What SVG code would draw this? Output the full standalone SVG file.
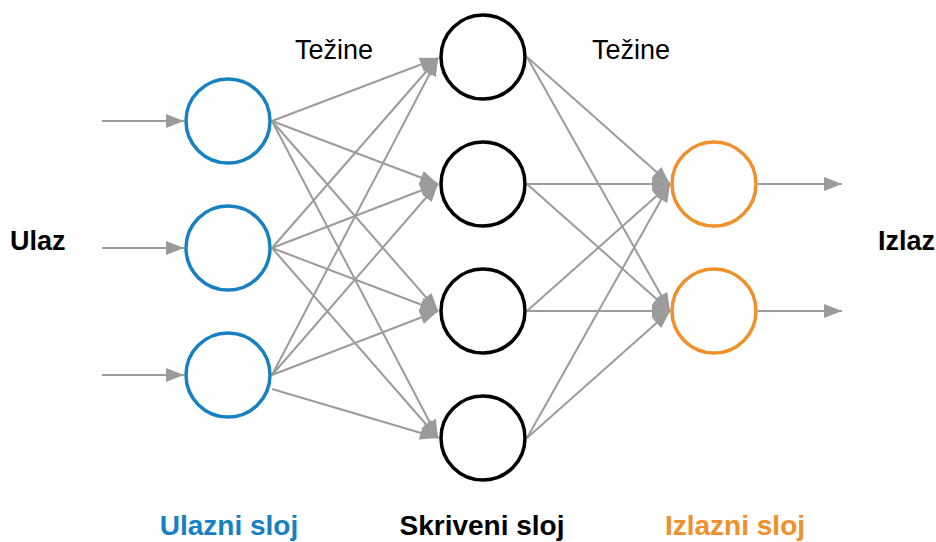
<svg xmlns="http://www.w3.org/2000/svg" width="936" height="542" viewBox="0 0 936 542">
<style>
.c{fill:#fff;stroke-width:3.5}
.in{stroke:#1580c2}
.hid{stroke:#000}
.out{stroke:#f0902a}
.e{stroke:#9b9b9b;stroke-width:2;fill:none;marker-end:url(#ah)}
.t{font-family:"Liberation Sans",Arial,sans-serif}
</style>
<defs>
<marker id="ah" markerUnits="userSpaceOnUse" markerWidth="19" markerHeight="15" refX="18" refY="7.5" orient="auto" viewBox="0 0 19 15">
<path d="M0,0.5 L18,7.5 L0,14.5 z" fill="#9b9b9b"/>
</marker>
</defs>
<g id="connectors">
<line class="e" x1="102" y1="121" x2="184" y2="121"/>
<line class="e" x1="102" y1="248" x2="184" y2="248"/>
<line class="e" x1="102" y1="375" x2="184" y2="375"/>
<line class="e" x1="272" y1="121" x2="438" y2="58"/>
<line class="e" x1="272" y1="121" x2="438" y2="184"/>
<line class="e" x1="272" y1="121" x2="438" y2="311"/>
<line class="e" x1="272" y1="121" x2="438" y2="438"/>
<line class="e" x1="272" y1="248" x2="438" y2="58"/>
<line class="e" x1="272" y1="248" x2="438" y2="184"/>
<line class="e" x1="272" y1="248" x2="438" y2="311"/>
<line class="e" x1="272" y1="248" x2="438" y2="438"/>
<line class="e" x1="272" y1="375" x2="438" y2="58"/>
<line class="e" x1="272" y1="375" x2="438" y2="184"/>
<line class="e" x1="272" y1="375" x2="438" y2="311"/>
<line class="e" x1="272" y1="389" x2="438" y2="438"/>
<line class="e" x1="527" y1="57" x2="670" y2="184"/>
<line class="e" x1="527" y1="57" x2="670" y2="311"/>
<line class="e" x1="527" y1="184" x2="670" y2="184"/>
<line class="e" x1="527" y1="184" x2="670" y2="311"/>
<line class="e" x1="527" y1="311" x2="670" y2="184"/>
<line class="e" x1="527" y1="311" x2="670" y2="311"/>
<line class="e" x1="527" y1="438" x2="670" y2="184"/>
<line class="e" x1="527" y1="438" x2="670" y2="311"/>
<line class="e" x1="758" y1="184" x2="842" y2="184"/>
<line class="e" x1="758" y1="311" x2="842" y2="311"/>
</g>
<g id="in1"><circle class="c in" cx="228" cy="121" r="42"/></g>
<g id="in2"><circle class="c in" cx="228" cy="248" r="42"/></g>
<g id="in3"><circle class="c in" cx="228" cy="375" r="42"/></g>
<g id="h1"><circle class="c hid" cx="483" cy="57" r="42"/></g>
<g id="h2"><circle class="c hid" cx="483" cy="184" r="42"/></g>
<g id="h3"><circle class="c hid" cx="483" cy="311" r="42"/></g>
<g id="h4"><circle class="c hid" cx="483" cy="438" r="42"/></g>
<g id="o1"><circle class="c out" cx="714" cy="184" r="42"/></g>
<g id="o2"><circle class="c out" cx="714" cy="311" r="42"/></g>
<g id="labels" class="t">
<text x="334" y="59" font-size="27" text-anchor="middle">Težine</text>
<text x="631" y="59" font-size="27" text-anchor="middle">Težine</text>
<text x="10" y="250" font-size="27" font-weight="bold">Ulaz</text>
<text x="935" y="250" font-size="27" font-weight="bold" text-anchor="end">Izlaz</text>
<text x="229" y="535" font-size="28" font-weight="bold" text-anchor="middle" fill="#1580c2">Ulazni sloj</text>
<text x="482" y="535" font-size="28" font-weight="bold" text-anchor="middle" fill="#000">Skriveni sloj</text>
<text x="735" y="535" font-size="28" font-weight="bold" text-anchor="middle" fill="#f0902a">Izlazni sloj</text>
</g>
</svg>
